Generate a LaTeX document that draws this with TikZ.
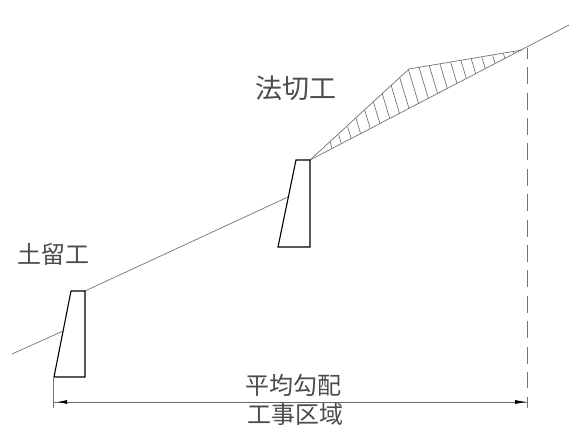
\documentclass[tikz,border=0pt]{standalone}
\usepackage{fontspec}
\newfontfamily\cjk{Noto Sans CJK JP}
\usetikzlibrary{arrows.meta}
\tikzset{
  wall/.style={draw=black,line width=1.1pt,line join=miter},
  thin line/.style={draw=black!55,line width=0.7pt},
  hatchline/.style={draw=black!60,line width=0.6pt},
  lbl/.style={font=\cjk\fontsize{24}{24}\selectfont,text=black!70,inner sep=0pt,anchor=center},
  dim/.style={draw=black!60,line width=0.8pt,{Latex[length=10pt,width=4pt,black,sep=4pt]}-{Latex[length=12pt,width=4pt,black,sep=0pt]}}
}
\begin{document}
\begin{tikzpicture}[x=1pt,y=-1pt]
\useasboundingbox[fill=white] (0,0) rectangle (581,427);
% ground
\draw[thin line] (12,354) -- (62,331.5);
\draw[thin line] (85,291) -- (288,197);
\draw[thin line] (310,160) -- (569,25);
% cut
\draw[thin line] (310,160) -- (409,69) -- (522,50);
% hatching
\foreach \zx/\zy in {180/365,206/345,233/320,258/295,284/270,310/245,337/222,363/195,389/172,415/148,447/142,478/138,510/132,542/127,573/122,604/118,636/113,668/106,700/100,730/95}{
  \pgfmathsetmacro{\tx}{270+\zx/3}
  \pgfmathsetmacro{\ty}{20+\zy/3}
  \pgfmathsetmacro{\tt}{(160-\ty-0.52*(\tx-310))/1.156}
  \pgfmathsetmacro{\bx}{\tx+0.3*\tt}
  \pgfmathsetmacro{\by}{\ty+\tt}
  \draw[hatchline] (\tx,\ty) -- (\bx,\by);
}
% walls
\draw[wall] (71,291) -- (85,291) -- (85,377) -- (54,377) -- cycle;
\draw[wall] (296,160) -- (310,160) -- (310,247) -- (278,247) -- cycle;
% dimension
\coordinate (dl) at (53,402);
\coordinate (dr) at (527,402);
\draw[thin line] (53,378) -- (53,408);
\draw[thin line] (527,397) -- (527,408);
\draw[thin line,dash pattern=on 17pt off 8.4pt,dash phase=6.1pt] (527,48) -- (527,388);
\draw[thin line] (dl) -- (dr);
\draw[dim] (dl) -- (dr);
% labels
\node[lbl] (a) at (296,88) {\fontsize{27}{27}\selectfont 法切工};
\node[lbl] (b) at (53,254) {土留工};
\node[lbl] (c) at (293,385) {平均勾配};
\node[lbl] (d) at (295,414) {工事区域};
\end{tikzpicture}
\end{document}
